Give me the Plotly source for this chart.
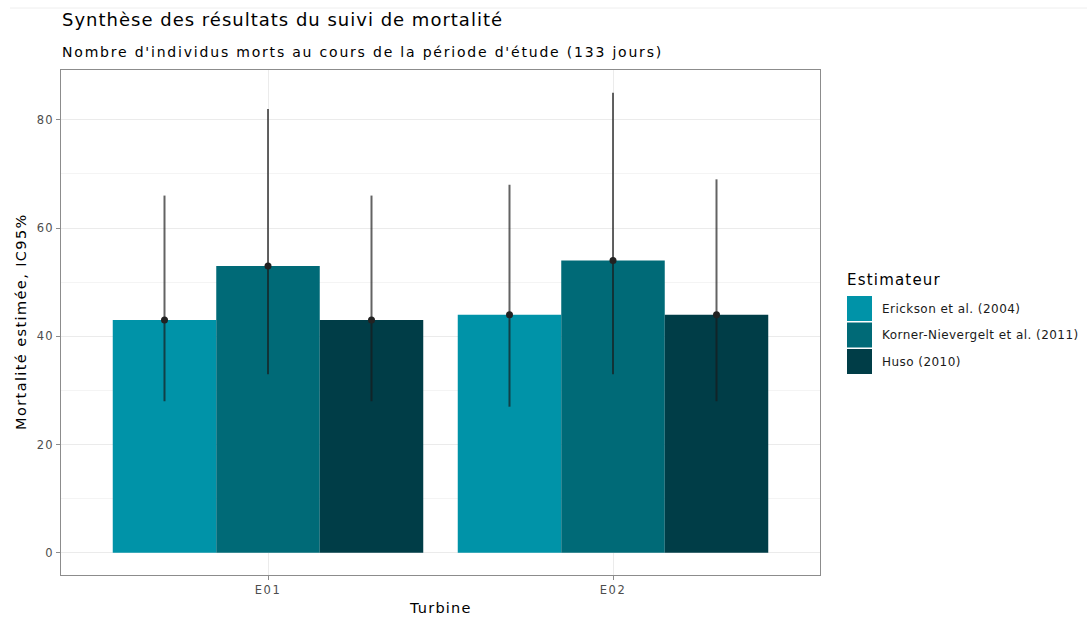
import plotly.graph_objects as go

# Mortality estimates per turbine and estimator, with 95% intervals
turbines = ["E01", "E02"]
estimators = ["Erickson et al. (2004)", "Korner-Nievergelt et al. (2011)", "Huso (2010)"]
estimate = {
    "Erickson et al. (2004)": [43, 44],
    "Korner-Nievergelt et al. (2011)": [53, 54],
    "Huso (2010)": [43, 44],
}
lower = {
    "Erickson et al. (2004)": [28, 27],
    "Korner-Nievergelt et al. (2011)": [33, 33],
    "Huso (2010)": [28, 28],
}
upper = {
    "Erickson et al. (2004)": [66, 68],
    "Korner-Nievergelt et al. (2011)": [82, 85],
    "Huso (2010)": [66, 69],
}
colors = {
    "Erickson et al. (2004)": "#0093A8",
    "Korner-Nievergelt et al. (2011)": "#006A77",
    "Huso (2010)": "#003D47",
}
y_ticks = [0, 20, 40, 60, 80]

W, H = 1087, 618
L, R, T, B = 61, 267, 70, 43
pw, ph = W - L - R, H - T - B


def px_x(px):
    return (px - L) / pw


def px_y(py):
    return (H - B - py) / ph


def spaced(text, ls):
    return f"<span style='letter-spacing:{ls}px'>{text}</span>"


fig = go.Figure()

for i, est in enumerate(estimators):
    fig.add_trace(go.Bar(
        x=turbines, y=estimate[est], name=est, offsetgroup=str(i),
        marker=dict(color=colors[est], line=dict(width=0)),
        showlegend=False,
    ))

for i, est in enumerate(estimators):
    vals = estimate[est]
    fig.add_trace(go.Scatter(
        x=turbines, y=vals, mode="markers", offsetgroup=str(i),
        marker=dict(color="#222222", size=7),
        error_y=dict(
            type="data", symmetric=False,
            array=[u - v for u, v in zip(upper[est], vals)],
            arrayminus=[v - l for v, l in zip(vals, lower[est])],
            color="rgba(25,25,25,0.68)", thickness=2, width=0,
        ),
        showlegend=False,
    ))

fig.update_layout(
    width=W, height=H,
    margin=dict(l=L, r=R, t=T, b=B),
    paper_bgcolor="white", plot_bgcolor="white",
    barmode="group", bargap=0.1, bargroupgap=0,
    scattermode="group", scattergap=0.1,
    font=dict(family="DejaVu Sans", color="#1A1A1A"),
)

fig.update_xaxes(
    type="category", range=[-0.6, 1.6],
    tickvals=turbines, ticktext=[spaced(t, 1.5) for t in turbines],
    showline=True, linecolor="#8C8C8C", linewidth=1, mirror=True,
    showgrid=True, gridcolor="#EBEBEB", gridwidth=1,
    ticks="outside", ticklen=4, tickcolor="#8C8C8C",
    tickfont=dict(size=11.5, color="#4D4D4D"),
    zeroline=False,
)
fig.update_yaxes(
    range=[-4.1, 89.2], tickvals=y_ticks,
    ticktext=[spaced(str(v), 1.2) for v in y_ticks],
    showline=True, linecolor="#8C8C8C", linewidth=1, mirror=True,
    showgrid=True, gridcolor="#EBEBEB", gridwidth=1,
    minor=dict(tickvals=[10, 30, 50, 70], showgrid=True, gridcolor="#F4F4F4", gridwidth=1),
    ticks="outside", ticklen=4, tickcolor="#8C8C8C",
    tickfont=dict(size=11.5, color="#4D4D4D"),
    zeroline=False,
)

annotations = [
    dict(text=spaced("Synthèse des résultats du suivi de mortalité", 1.0),
         x=px_x(60), y=px_y(20), xanchor="left", yanchor="middle",
         font=dict(size=18, color="#000000")),
    dict(text=spaced("Nombre d'individus morts au cours de la période d'étude (133 jours)", 1.8),
         x=px_x(60), y=px_y(52), xanchor="left", yanchor="middle",
         font=dict(size=14, color="#000000")),
    dict(text=spaced("Mortalité estimée, IC95%", 1.4), x=px_x(21), y=px_y(322), textangle=-90,
         xanchor="center", yanchor="middle", font=dict(size=14.5, color="#000000")),
    dict(text=spaced("Turbine", 1.2), x=px_x(440), y=px_y(608), xanchor="center", yanchor="middle",
         font=dict(size=14.5, color="#000000")),
    dict(text=spaced("Estimateur", 1.2), x=px_x(845), y=px_y(280), xanchor="left", yanchor="middle",
         font=dict(size=15, color="#000000")),
]

shapes = [
    dict(type="line", xref="paper", yref="paper", x0=px_x(10), x1=px_x(1087),
         y0=px_y(8), y1=px_y(8), line=dict(color="#EEEEEE", width=1)),
]

# Legend keys
key_top = [296, 322.5, 349]
for est, top in zip(estimators, key_top):
    shapes.append(dict(type="rect", xref="paper", yref="paper",
                       x0=px_x(847), x1=px_x(872), y0=px_y(top + 25), y1=px_y(top),
                       fillcolor=colors[est], line=dict(width=0)))
    annotations.append(dict(text=spaced(est, 0.45), x=px_x(880), y=px_y(top + 12.5),
                            xanchor="left", yanchor="middle",
                            font=dict(size=12, color="#1A1A1A")))

for a in annotations:
    a.update(xref="paper", yref="paper", showarrow=False)

fig.update_layout(annotations=annotations, shapes=shapes)

fig.write_html("out.html")
